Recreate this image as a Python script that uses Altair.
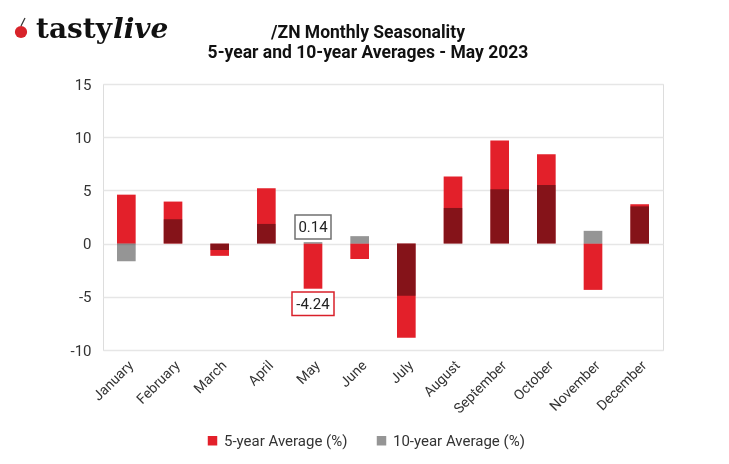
import altair as alt
import pandas as pd

months = ["January", "February", "March", "April", "May", "June", "July",
          "August", "September", "October", "November", "December"]
avg5 = [4.6, 3.95, -1.15, 5.2, -4.24, -1.45, -8.85, 6.3, 9.7, 8.4, -4.35, 3.7]
avg10 = [-1.65, 2.3, -0.6, 1.85, 0.14, 0.7, -4.9, 3.35, 5.1, 5.5, 1.2, 3.5]
series = ["5-year Average (%)", "10-year Average (%)"]
colors = ["#E3202A", "#959595"]
title_lines = ["/ZN Monthly Seasonality", "5-year and 10-year Averages - May 2023"]

rows = []
for m, a, b in zip(months, avg5, avg10):
    rows.append({"month": m, "series": series[0], "value": a})
    rows.append({"month": m, "series": series[1], "value": b})
df = pd.DataFrame(rows)

labels = pd.DataFrame({
    "month": ["May", "May"],
    "value": [avg10[4], avg5[4]],
    "label": [f"{avg10[4]:.2f}", f"{avg5[4]:.2f}"],
    "series": series[::-1],
})

xenc = alt.X("month:N", sort=months, title=None,
             scale=alt.Scale(paddingInner=0.6, paddingOuter=0.3),
             axis=alt.Axis(labelAngle=-45, labelFontSize=14, labelColor="#333333",
                           labelFont="Roboto", domain=False, ticks=False, grid=False,
                           labelPadding=8))
yenc = alt.Y("value:Q", title=None,
             scale=alt.Scale(domain=[-10, 15], nice=False),
             axis=alt.Axis(values=[-10, -5, 0, 5, 10, 15], labelFontSize=15,
                           labelExpr="'' + datum.value",
                           labelColor="#333333", labelFont="Roboto", domain=False,
                           ticks=False, gridColor="#E6E6E6", gridWidth=1.5,
                           labelPadding=12))
color = alt.Color("series:N", scale=alt.Scale(domain=series, range=colors), title=None,
                  legend=alt.Legend(orient="none", legendX=102, legendY=349,
                                    direction="horizontal", symbolType="square",
                                    symbolSize=90, labelFontSize=15, labelFont="Roboto",
                                    labelColor="#333333", columnPadding=26,
                                    symbolStrokeWidth=0))

base = alt.Chart(df)
bars5 = base.transform_filter(alt.datum.series == series[0]).mark_bar().encode(
    x=xenc, y=yenc, color=color)
bars10 = base.transform_filter(alt.datum.series == series[1]).mark_bar(
    blend="multiply").encode(x=xenc, y=yenc, color=color)

lab_pos = alt.Chart(labels).transform_filter(alt.datum.value > 0)
lab_neg = alt.Chart(labels).transform_filter(alt.datum.value < 0)
box_pos = lab_pos.mark_point(
    shape="M-1,-0.667L1,-0.667L1,0.667L-1,0.667Z", size=1296, filled=True,
    fill="white", stroke="#707070", strokeWidth=1.5, opacity=1, yOffset=-15
).encode(x=alt.X("month:N", sort=months), y="value:Q")
txt_pos = lab_pos.mark_text(fontSize=15, font="Roboto", color="#222222", dy=-15).encode(
    x=alt.X("month:N", sort=months), y="value:Q", text="label:N")
box_neg = lab_neg.mark_point(
    shape="M-1,-0.56L1,-0.56L1,0.56L-1,0.56Z", size=1764, filled=True,
    fill="white", stroke="#D9202A", strokeWidth=1.5, opacity=1, yOffset=15
).encode(x=alt.X("month:N", sort=months), y="value:Q")
txt_neg = lab_neg.mark_text(fontSize=15, font="Roboto", color="#222222", dy=15).encode(
    x=alt.X("month:N", sort=months), y="value:Q", text="label:N")

one = pd.DataFrame({"a": [1]})
cherry = alt.Chart(one).mark_point(filled=True, color="#D8232A", size=150, opacity=1).encode(
    x=alt.value(-82), y=alt.value(-52))
stem = alt.Chart(one).mark_rule(color="#333333", strokeWidth=1.2).encode(
    x=alt.value(-82), x2=alt.value(-78), y=alt.value(-58), y2=alt.value(-66))
tasty = alt.Chart(one).mark_text(text="tasty", font="DejaVu Serif", fontWeight="bold",
                                 fontSize=28, align="left", baseline="middle",
                                 color="#111111").encode(x=alt.value(-67), y=alt.value(-54))
live = alt.Chart(one).mark_text(text="live", font="DejaVu Serif", fontWeight="bold",
                                fontStyle="italic", fontSize=28, align="left",
                                baseline="middle", color="#111111").encode(
    x=alt.value(10), y=alt.value(-54))
title1 = alt.Chart(one).mark_text(text=title_lines[0], font="Roboto", fontWeight="bold",
                                  fontSize=17.5, align="center", baseline="middle",
                                  color="#111111").encode(x=alt.value(265), y=alt.value(-51))
title2 = alt.Chart(one).mark_text(text=title_lines[1], font="Roboto", fontWeight="bold",
                                  fontSize=17.5, align="center", baseline="middle",
                                  color="#111111").encode(x=alt.value(265), y=alt.value(-31))

chart = alt.layer(bars5, bars10, box_pos, txt_pos, box_neg, txt_neg,
                  cherry, stem, tasty, live, title1, title2).properties(
    width=560, height=266,
    autosize=alt.AutoSizeParams(type="none"),
    padding={"left": 95, "top": 76, "right": 50, "bottom": 104},
).configure_view(stroke=None).configure(background="white")

chart.save("out.html", embed_options={"renderer": "svg", "actions": False})
